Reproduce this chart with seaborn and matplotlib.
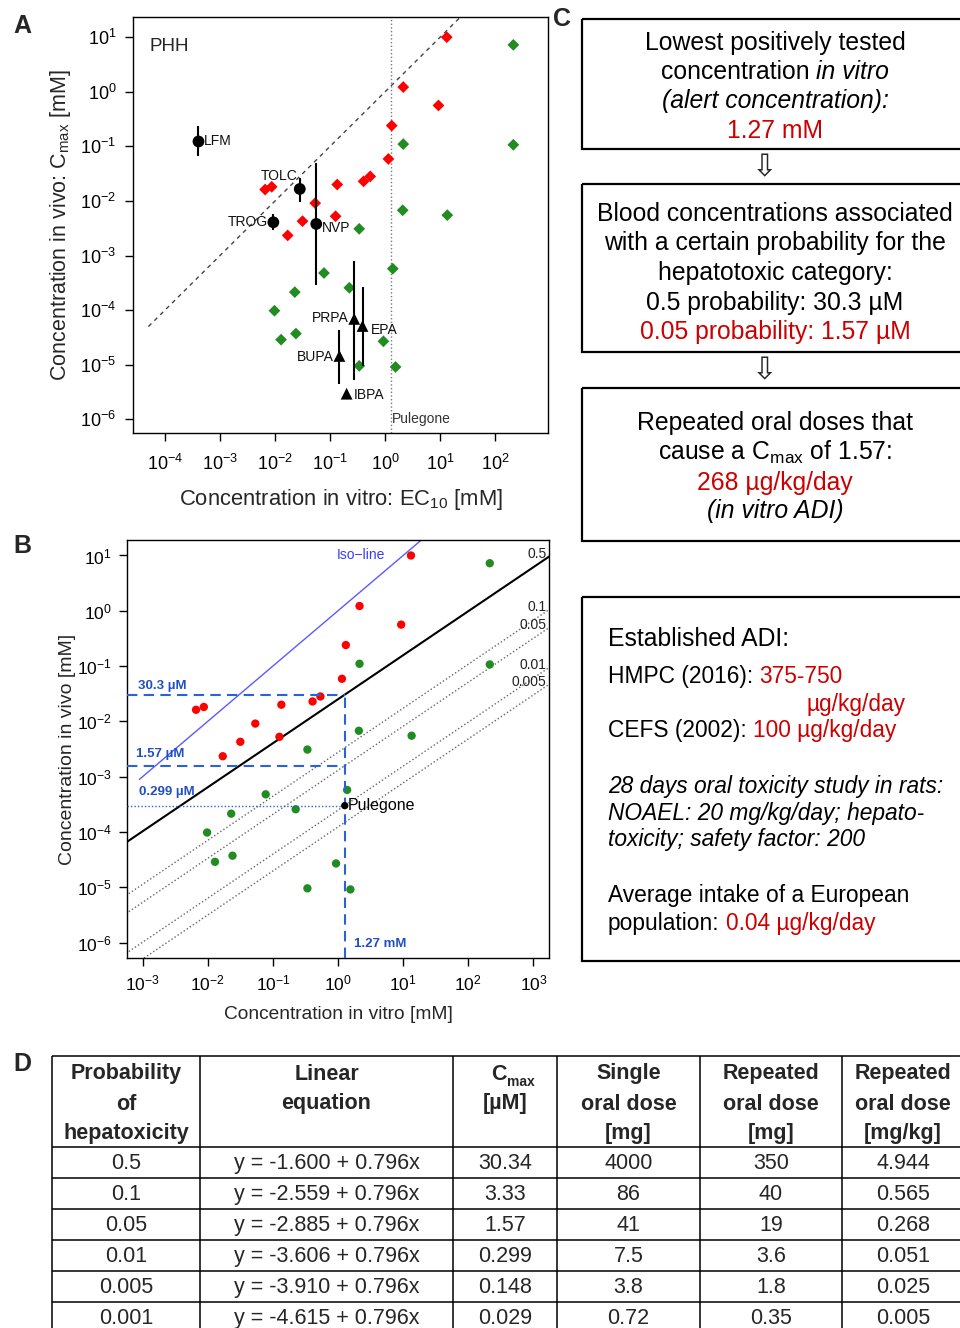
import numpy as np
import pandas as pd
import matplotlib
matplotlib.use('Agg')
import matplotlib.pyplot as plt
import seaborn as sns
from matplotlib.patches import Rectangle
from matplotlib.ticker import LogFormatterMathtext, NullLocator

# ---- data (mM) ----
hep_x = [13.2, 2.14, 9.33, 1.32, 1.15, 0.537, 0.407, 0.135, 0.0537, 0.126, 0.0316, 0.0170, 0.00661, 0.00871]
hep_y = [10.0, 1.22, 0.562, 0.240, 0.0589, 0.0282, 0.0229, 0.0200, 0.00912, 0.00525, 0.00427, 0.00234, 0.0162, 0.0182]
non_x = [214, 214, 2.14, 2.09, 13.5, 0.339, 1.38, 0.0776, 0.224, 0.0229, 0.00977, 0.0129, 0.0240, 0.933, 0.339, 1.55]
non_y = [7.24, 0.107, 0.110, 0.00676, 0.00550, 0.00309, 5.75e-4, 4.79e-4, 2.57e-4, 2.14e-4,
         9.77e-5, 2.88e-5, 3.72e-5, 2.69e-5, 9.55e-6, 9.12e-6]

ref_names = ['LFM', 'TOLC', 'TROG', 'NVP', 'PRPA', 'EPA', 'BUPA', 'IBPA']
ref_x = [4.07e-4, 0.0282, 0.00933, 0.0562, 0.275, 0.389, 0.148, 0.200]
ref_y = [0.123, 0.0166, 0.00407, 0.00380, 6.92e-5, 5.13e-5, 1.45e-5, 2.95e-6]
ref_lo = [0.0661, 0.00977, 0.00288, 2.95e-4, 5.37e-6, 9.55e-6, 4.37e-6, 2.95e-6]
ref_hi = [0.240, 0.0269, 0.00589, 0.0501, 7.94e-4, 2.69e-4, 4.27e-5, 2.95e-6]
ref_shape = ['o', 'o', 'o', 'o', '^', '^', '^', '^']

pulegone_ec = 1.27  # mM

# table D
probs = ['0.5', '0.1', '0.05', '0.01', '0.005', '0.001']
intercepts = [-1.600, -2.559, -2.885, -3.606, -3.910, -4.615]
slope = 0.796
cmax_um = ['30.34', '3.33', '1.57', '0.299', '0.148', '0.029']
single_mg = ['4000', '86', '41', '7.5', '3.8', '0.72']
rep_mg = ['350', '40', '19', '3.6', '1.8', '0.35']
rep_mgkg = ['4.944', '0.565', '0.268', '0.051', '0.025', '0.005']

RED = '#ff0000'
GREEN = '#228b22'
TXT_RED = '#cc0000'
BLUE = '#2a62d8'

sns.set_theme(style='ticks')
plt.rcParams['font.family'] = ['Liberation Sans', 'DejaVu Sans']
plt.rcParams['mathtext.fontset'] = 'custom'
plt.rcParams['mathtext.rm'] = 'Liberation Sans'
plt.rcParams['mathtext.it'] = 'Liberation Sans:italic'
plt.rcParams['mathtext.bf'] = 'Liberation Sans:bold'
plt.rcParams['mathtext.default'] = 'regular'
plt.rcParams['axes.edgecolor'] = 'black'
plt.rcParams['xtick.color'] = 'black'
plt.rcParams['ytick.color'] = 'black'

W, H = 960, 1328
fig = plt.figure(figsize=(W / 100, H / 100), dpi=100)


def px_axes(l, t, r, b):
    return fig.add_axes([l / W, 1 - b / H, (r - l) / W, (b - t) / H])


def log_axes(ax, xt, yt, xl, yl, size, pad_x, pad_y):
    ax.set_xscale('log')
    ax.set_yscale('log')
    ax.set_xlim(*xl)
    ax.set_ylim(*yl)
    ax.set_xticks(xt)
    ax.set_yticks(yt)
    for a in (ax.xaxis, ax.yaxis):
        a.set_major_formatter(LogFormatterMathtext())
        a.set_minor_locator(NullLocator())
    ax.tick_params(axis='x', length=6, width=1, labelsize=size, pad=pad_x)
    ax.tick_params(axis='y', length=6, width=1, labelsize=size, pad=pad_y)
    for s in ax.spines.values():
        s.set_linewidth(1)
        s.set_color('black')


# ================= panel A =================
axA = px_axes(133, 17, 548, 433)
df_a = pd.DataFrame({'x': hep_x + non_x, 'y': hep_y + non_y,
                     'cls': ['hepatotoxic'] * len(hep_x) + ['non'] * len(non_x)})
sns.scatterplot(data=df_a, x='x', y='y', hue='cls', palette={'hepatotoxic': RED, 'non': GREEN},
                marker='D', s=36, edgecolor='none', legend=False, ax=axA, zorder=3)

iso = np.logspace(-4.3, 1.5, 20)
axA.plot(iso, iso, color='#444444', lw=1, dashes=(3, 3), zorder=1)
axA.axvline(pulegone_ec, color='#777777', lw=1, ls=':', zorder=1)
axA.text(pulegone_ec * 1.05, 1.0e-6, 'Pulegone', fontsize=10, color='#333333', va='center')

axA.vlines(ref_x, ref_lo, ref_hi, color='black', lw=1.5, zorder=4)
df_r = pd.DataFrame({'x': ref_x, 'y': ref_y, 'shape': ref_shape})
sns.scatterplot(data=df_r, x='x', y='y', style='shape', markers={'o': 'o', '^': '^'},
                color='black', s=72, edgecolor='none', legend=False, ax=axA, zorder=5)
offsets = {'LFM': (4, 0, 'left', 'center'), 'TOLC': (-2, 4, 'right', 'bottom'),
           'TROG': (-4, 0, 'right', 'center'), 'NVP': (4, -3, 'left', 'center'),
           'PRPA': (-4, 1, 'right', 'center'), 'EPA': (6, -3, 'left', 'center'),
           'BUPA': (-4, -1, 'right', 'center'), 'IBPA': (5, -1, 'left', 'center')}
for n, x, y in zip(ref_names, ref_x, ref_y):
    dx, dy, ha, va = offsets[n]
    axA.annotate(n, (x, y), xytext=(dx, dy), textcoords='offset points',
                 ha=ha, va=va, fontsize=10, color='#111111')
axA.text(0.04, 0.93, 'PHH', transform=axA.transAxes, fontsize=13.5, va='center')

log_axes(axA, [10.0 ** k for k in range(-4, 3)], [10.0 ** k for k in range(-6, 2)],
         (10 ** -4.58, 10 ** 2.96), (10 ** -6.25, 10 ** 1.37), 13, 9, 6)
axA.set_xlabel('Concentration in vitro: EC$_{10}$ [mM]', fontsize=15.8)
axA.set_ylabel('Concentration in vivo: C$_{max}$ [mM]', fontsize=15.5)
axA.xaxis.set_label_coords(0.5, -0.13)
axA.yaxis.set_label_coords(-0.145, 0.5)

# ================= panel B =================
axB = px_axes(127, 540, 549, 958)
xl_b = (10 ** -3.24, 10 ** 3.24)
yl_b = (10 ** -6.28, 10 ** 1.28)
sns.scatterplot(data=df_a, x='x', y='y', hue='cls', palette={'hepatotoxic': RED, 'non': GREEN},
                marker='o', s=36, edgecolor='none', legend=False, ax=axB, zorder=3)

xs = np.logspace(-3.4, 3.4, 60)
for p, b in zip(probs[:5], intercepts[:5]):
    yv = 10 ** (b + slope * np.log10(xs))
    if p == '0.5':
        axB.plot(xs, yv, color='black', lw=1.5, zorder=2)
    else:
        axB.plot(xs, yv, color='#666666', lw=1, ls=':', zorder=2)
    yend = 10 ** (b + slope * np.log10(xl_b[1]))
    axB.text(10 ** 3.2, yend * 1.1, p, ha='right', va='center', fontsize=10, color='#222222')

iso_b = np.logspace(-3.05, 2, 20)
axB.plot(iso_b, iso_b, color='#5a5aff', lw=1, zorder=2)
axB.text(10 ** 0.35, 10 ** 1.0, 'Iso\u2212line', color='#3a3aff', fontsize=10, ha='center', va='center')

c05 = float(cmax_um[0]) / 1000
c005 = float(cmax_um[2]) / 1000
c001 = float(cmax_um[3]) / 1000
axB.plot([xl_b[0], pulegone_ec], [c05, c05], color=BLUE, lw=1.5, dashes=(5, 3), zorder=4)
axB.plot([xl_b[0], pulegone_ec], [c005, c005], color=BLUE, lw=1.5, dashes=(5, 3), zorder=4)
axB.plot([xl_b[0], pulegone_ec], [c001, c001], color=BLUE, lw=1, dashes=(1, 1.5), zorder=4)
axB.plot([pulegone_ec, pulegone_ec], [yl_b[0], c05], color=BLUE, lw=1.5, dashes=(5, 3), zorder=4)
sns.scatterplot(x=[pulegone_ec], y=[c001], color='black', s=28, edgecolor='none', legend=False, ax=axB, zorder=6)
axB.text(pulegone_ec * 1.12, c001, 'Pulegone', fontsize=11.5, va='center', color='black')

blab = dict(color='#1f4fc4', fontsize=9.5, fontweight='bold', va='center', ha='left')
axB.text(10 ** -3.07, c05 * 10 ** 0.15, '30.3 \u00b5M', **blab)
axB.text(10 ** -3.1, c005 * 10 ** 0.21, '1.57 \u00b5M', **blab)
axB.text(10 ** -3.06, c001 * 10 ** 0.24, '0.299 \u00b5M', **blab)
axB.text(pulegone_ec * 1.4, 10 ** -6.03, '1.27 mM', **blab)

log_axes(axB, [10.0 ** k for k in range(-3, 4)], [10.0 ** k for k in range(-6, 2)],
         xl_b, yl_b, 12.5, 5, 5)
axB.set_xlabel('Concentration in vitro [mM]', fontsize=13.8)
axB.set_ylabel('Concentration in vivo [mM]', fontsize=14)
axB.xaxis.set_label_coords(0.5, -0.115)
axB.yaxis.set_label_coords(-0.122, 0.5)

# ================= overlay: panels C, D and letters =================
ov = fig.add_axes([0, 0, 1, 1])
ov.set_xlim(0, W)
ov.set_ylim(H, 0)
ov.axis('off')
ov.patch.set_visible(False)
renderer = fig.canvas.get_renderer()
FS = 17.8
FS4 = 16.4


def width(t):
    return t.get_window_extent(renderer).width


def rich(segs, x, y, ha='center', size=FS):
    probe1 = ov.text(0, 0, 'a a', fontsize=size)
    probe2 = ov.text(0, 0, 'aa', fontsize=size)
    sp = width(probe1) - width(probe2)
    probe1.remove()
    probe2.remove()
    objs, ws = [], []
    for s, c, st in segs:
        trail = s.endswith(' ')
        o = ov.text(0, y, s.rstrip(' '), color=c, style=st, fontsize=size, va='baseline', ha='left')
        objs.append(o)
        ws.append(width(o) + (sp if trail else 0))
    x0 = x - sum(ws) / 2 if ha == 'center' else x
    for o, w in zip(objs, ws):
        o.set_x(x0)
        x0 += w


K = 'black'
for (t, b) in [(19, 149), (184, 352), (388, 541), (597, 961)]:
    ov.add_patch(Rectangle((582, t), 420, b - t, fill=False, ec='black', lw=1.6, clip_on=False))
for y in (168, 371):
    ov.text(765, y, '\u21e9', family=['DejaVu Sans'], fontsize=22, ha='center', va='center')

cx = 775
bo = 9
rich([('Lowest positively tested', K, 'normal')], cx, 41 + bo)
rich([('concentration ', K, 'normal'), ('in vitro', K, 'italic')], cx, 70 + bo)
rich([('(alert concentration):', K, 'italic')], cx, 99 + bo)
rich([('1.27 mM', TXT_RED, 'normal')], cx, 129 + bo)

rich([('Blood concentrations associated', K, 'normal')], cx, 212 + bo)
rich([('with a certain probability for the', K, 'normal')], cx, 241 + bo)
rich([('hepatotoxic category:', K, 'normal')], cx, 271 + bo)
rich([('0.5 probability: 30.3 \u00b5M', K, 'normal')], cx, 301 + bo)
rich([('0.05 probability: 1.57 \u00b5M', TXT_RED, 'normal')], cx, 330 + bo)

rich([('Repeated oral doses that', K, 'normal')], cx, 421 + bo)
rich([('cause a C$_{max}$ of 1.57:', K, 'normal')], cx, 451 + bo)
rich([('268 \u00b5g/kg/day', TXT_RED, 'normal')], cx, 481 + bo)
rich([('(in vitro ADI)', K, 'italic')], cx, 509 + bo)

lx = 608
b4 = 8
rich([('Established ADI:', K, 'normal')], lx, 637 + bo, ha='left')
rich([('HMPC (2016): ', K, 'normal'), ('375-750', TXT_RED, 'normal')], lx, 675 + b4, ha='left', size=FS4)
rich([('\u00b5g/kg/day', TXT_RED, 'normal')], 807, 703 + b4, ha='left', size=FS4)
rich([('CEFS (2002): ', K, 'normal'), ('100 \u00b5g/kg/day', TXT_RED, 'normal')], lx, 729 + b4, ha='left', size=FS4)
rich([('28 days oral toxicity study in rats:', K, 'italic')], lx, 785 + b4, ha='left', size=FS4)
rich([('NOAEL: 20 mg/kg/day; hepato-', K, 'italic')], lx, 812 + b4, ha='left', size=FS4)
rich([('toxicity; safety factor: 200', K, 'italic')], lx, 838 + b4, ha='left', size=FS4)
rich([('Average intake of a European', K, 'normal')], lx, 894 + b4, ha='left', size=FS4)
rich([('population: ', K, 'normal'), ('0.04 \u00b5g/kg/day', TXT_RED, 'normal')], lx, 922 + b4, ha='left', size=FS4)

# table D
tfam = ['Liberation Sans Narrow', 'Liberation Sans', 'DejaVu Sans']
col_lines = [52, 200, 453, 557, 700, 842, 964]
row_lines = [1056, 1147, 1178, 1209, 1240, 1271, 1302, 1333]
ov.hlines(row_lines, col_lines[0], col_lines[-1], color='black', lw=1.1, clip_on=False)
ov.vlines(col_lines, row_lines[0], row_lines[-1], color='black', lw=1.1, clip_on=False)
centers = [(a + b) / 2 for a, b in zip(col_lines[:-1], col_lines[1:])]

headers = [['Probability', 'of', 'hepatoxicity'], ['Linear', 'equation'], ['', '[\u00b5M]'],
           ['Single', 'oral dose', '[mg]'], ['Repeated', 'oral dose', '[mg]'],
           ['Repeated', 'oral dose', '[mg/kg]']]
for c, lines in zip(centers, headers):
    for i, s in enumerate(lines):
        if s:
            ov.text(c, 1074 + 30 * i, s, family=tfam, fontweight='bold', fontsize=15.5,
                    ha='center', va='center')
ov.text(centers[2] + 2, 1074, 'C', family=tfam, fontweight='bold', fontsize=15.5, ha='right', va='center')
ov.text(centers[2] + 2, 1082, 'max', family=tfam, fontweight='bold', fontsize=10, ha='left', va='center')

eqs = [f'y = {b:.3f} + {slope}x' for b in intercepts]
rows = list(zip(probs, eqs, cmax_um, single_mg, rep_mg, rep_mgkg))
for r, vals in enumerate(rows):
    yc = (row_lines[r + 1] + row_lines[r + 2]) / 2 + 1
    for c, v in zip(centers, vals):
        ov.text(c, yc, v, family=tfam, fontsize=15.5, ha='center', va='center')

for s, x, y in [('A', 22, 26), ('B', 22, 546), ('C', 562, 19), ('D', 22, 1064)]:
    ov.text(x, y, s, fontsize=18, fontweight='bold', ha='center', va='center')

fig.savefig('out.png', dpi=100)
